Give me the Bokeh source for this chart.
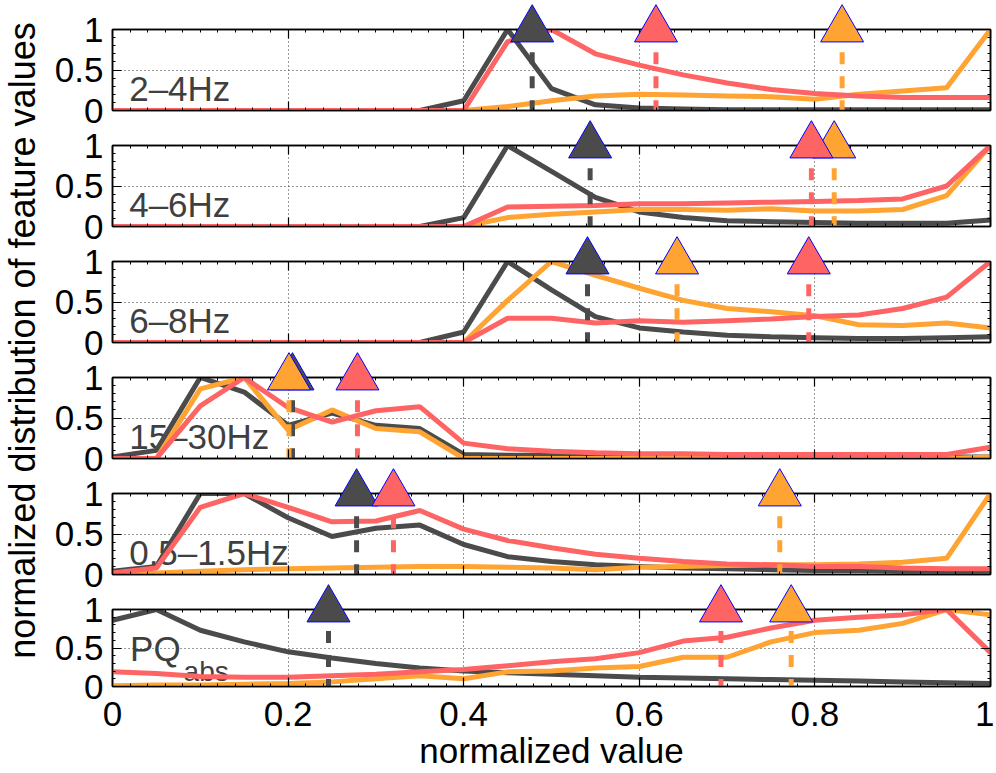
import math
from bokeh.plotting import figure
from bokeh.layouts import row, column
from bokeh.models import (FixedTicker, LinearAxis, Label, Range1d, Grid,
                          CustomJSTickFormatter)
from bokeh.embed import file_html
from bokeh.resources import INLINE
from bokeh.core.properties import value

# ---------------- data ----------------
x_bins = [0.0, 0.05, 0.1, 0.15, 0.2, 0.25, 0.3, 0.35, 0.4, 0.45, 0.5,
          0.55, 0.6, 0.65, 0.7, 0.75, 0.8, 0.85, 0.9, 0.95, 1.0]

band_labels = ["2\u20134Hz", "4\u20136Hz", "6\u20138Hz", "15\u201330Hz", "0.5\u20131.5Hz", "PQ"]
last_subscript = "abs"

dark_series = [
    [0, 0, 0, 0, 0, 0, 0, 0, 0.12, 1.0, 0.27, 0.07, 0.03, 0.02, 0.01, 0.01, 0.01, 0.01, 0.01, 0.01, 0.01],
    [0, 0, 0, 0, 0, 0, 0, 0, 0.11, 1.0, 0.68, 0.36, 0.18, 0.11, 0.07, 0.06, 0.05, 0.04, 0.04, 0.04, 0.08],
    [0, 0, 0, 0, 0, 0, 0, 0, 0.13, 1.0, 0.65, 0.32, 0.18, 0.13, 0.09, 0.07, 0.06, 0.05, 0.05, 0.06, 0.07],
    [0.02, 0.1, 1.0, 0.82, 0.41, 0.56, 0.41, 0.37, 0.05, 0.04, 0.04, 0.03, 0.03, 0.02, 0.02, 0.02, 0.02, 0.02, 0.02, 0.02, 0.02],
    [0.04, 0.1, 1.0, 1.0, 0.7, 0.47, 0.57, 0.61, 0.37, 0.22, 0.16, 0.12, 0.1, 0.08, 0.07, 0.06, 0.05, 0.05, 0.04, 0.04, 0.04],
    [0.86, 1.0, 0.73, 0.58, 0.45, 0.37, 0.3, 0.24, 0.2, 0.18, 0.16, 0.14, 0.12, 0.11, 0.1, 0.09, 0.08, 0.07, 0.06, 0.05, 0.04],
]
red_series = [
    [0, 0, 0, 0, 0, 0, 0, 0, 0, 0.85, 1.0, 0.7, 0.56, 0.44, 0.34, 0.26, 0.21, 0.18, 0.16, 0.16, 0.16],
    [0, 0, 0, 0, 0, 0, 0, 0, 0, 0.24, 0.25, 0.26, 0.28, 0.28, 0.29, 0.3, 0.31, 0.32, 0.34, 0.5, 1.0],
    [0, 0, 0, 0, 0, 0, 0, 0, 0, 0.3, 0.3, 0.24, 0.27, 0.25, 0.27, 0.29, 0.32, 0.34, 0.42, 0.56, 1.0],
    [0, 0, 0.65, 1.0, 0.63, 0.45, 0.59, 0.64, 0.19, 0.12, 0.09, 0.07, 0.06, 0.06, 0.05, 0.05, 0.05, 0.05, 0.05, 0.05, 0.14],
    [0.02, 0.08, 0.83, 1.0, 0.83, 0.65, 0.66, 0.79, 0.56, 0.42, 0.33, 0.25, 0.2, 0.16, 0.13, 0.12, 0.1, 0.1, 0.08, 0.07, 0.07],
    [0.19, 0.17, 0.13, 0.12, 0.12, 0.14, 0.16, 0.19, 0.22, 0.27, 0.32, 0.36, 0.44, 0.59, 0.64, 0.76, 0.86, 0.9, 0.93, 1.0, 0.44],
]
orange_series = [
    [0, 0, 0, 0, 0, 0, 0, 0, 0, 0.05, 0.12, 0.18, 0.2, 0.19, 0.18, 0.17, 0.14, 0.2, 0.24, 0.28, 1.0],
    [0, 0, 0, 0, 0, 0, 0, 0, 0, 0.11, 0.15, 0.18, 0.21, 0.21, 0.2, 0.22, 0.19, 0.19, 0.21, 0.38, 1.0],
    [0, 0, 0, 0, 0, 0, 0, 0, 0, 0.52, 1.0, 0.83, 0.67, 0.52, 0.42, 0.38, 0.33, 0.22, 0.21, 0.24, 0.18],
    [0, 0, 0.86, 1.0, 0.35, 0.6, 0.37, 0.33, 0, 0, 0, 0, 0, 0, 0, 0, 0, 0, 0, 0, 0.02],
    [0, 0.02, 0.04, 0.06, 0.07, 0.08, 0.09, 0.1, 0.1, 0.09, 0.08, 0.06, 0.09, 0.1, 0.11, 0.12, 0.12, 0.13, 0.15, 0.2, 1.0],
    [0.01, 0.02, 0.02, 0.03, 0.04, 0.06, 0.1, 0.14, 0.1, 0.19, 0.2, 0.24, 0.26, 0.38, 0.38, 0.58, 0.7, 0.73, 0.82, 1.0, 0.93],
]

dark_marker = [0.478, 0.544, 0.541, 0.205, 0.278, 0.246]
red_marker = [0.619, 0.796, 0.793, 0.279, 0.32, 0.693]
orange_marker = [0.831, 0.822, 0.643, 0.201, 0.76, 0.773]

x_ticks = [0, 0.2, 0.4, 0.6, 0.8, 1]
x_tick_labels = ["0", "0.2", "0.4", "0.6", "0.8", "1"]
y_ticks = [0, 0.5, 1]
y_tick_labels = ["0", "0.5", "1"]

x_label = "normalized value"
y_label = "normalized distribution of feature values"

# ---------------- style ----------------
DARK = "#4b4b4b"
RED = "#ff6464"
ORANGE = "#ffa333"
TEXT = "#3f3f3f"
FONT = "Liberation Sans"
DASH_TOP = 0.72
MARK_Y = 1.0

x_minor = [round(k * 0.02, 2) for k in range(51) if k % 10 != 0]
y_minor = [0.1, 0.2, 0.3, 0.4, 0.6, 0.7, 0.8, 0.9]

LABEL_W = 48
PANEL_W = 946
FRAME_H = 81
TOP_B = 29          # room for the triangles above each frame
BOT_B = 22          # room for the "0" tick label below each frame
LAST_BOT = 82
STEP = 116          # distance between panel tops
OVERLAP = TOP_B + FRAME_H + BOT_B - STEP
TOTAL_H = STEP * 5 + TOP_B + FRAME_H + LAST_BOT


def make_axis(ticks, minor, labels=None):
    ax = LinearAxis(ticker=FixedTicker(ticks=ticks, minor_ticks=minor))
    ax.major_tick_in = 9
    ax.major_tick_out = 0
    ax.minor_tick_in = 3
    ax.minor_tick_out = 0
    ax.axis_line_color = "black"
    ax.axis_line_width = 1.5
    ax.major_tick_line_color = "black"
    ax.major_tick_line_width = 1.2
    ax.minor_tick_line_color = "black"
    if labels is None:
        ax.formatter = CustomJSTickFormatter(code="return ''")
        ax.major_label_text_font_size = "1px"
        ax.major_label_standoff = 0
    else:
        ax.major_label_overrides = {t: s for t, s in zip(ticks, labels)}
        ax.major_label_text_font = FONT
        ax.major_label_text_font_size = "35px"
        ax.major_label_text_color = "black"
        ax.major_label_standoff = 9
    return ax


panels = []
for i in range(6):
    last = i == 5
    bot_b = LAST_BOT if last else BOT_B
    p = figure(width=PANEL_W, height=TOP_B + FRAME_H + bot_b,
               x_range=Range1d(0, 1), y_range=Range1d(0, 1),
               x_axis_type=None, y_axis_type=None,
               output_backend="svg", toolbar_location=None,
               min_border_left=112 - LABEL_W, min_border_right=4,
               min_border_top=TOP_B, min_border_bottom=bot_b)
    if i > 0:
        p.margin = (-OVERLAP, 0, 0, 0)
    p.outline_line_color = "black"
    p.outline_line_width = 1.5
    p.background_fill_color = "white"
    p.border_fill_color = None

    p.add_layout(Grid(dimension=0, ticker=FixedTicker(ticks=x_ticks),
                      grid_line_color="#333333", grid_line_dash="1 3",
                      grid_line_width=1))
    p.add_layout(Grid(dimension=1, ticker=FixedTicker(ticks=y_ticks),
                      grid_line_color="#333333", grid_line_dash="1 3",
                      grid_line_width=1))

    p.add_layout(make_axis(y_ticks, y_minor, y_tick_labels), "left")
    p.add_layout(make_axis(y_ticks, y_minor), "right")
    p.add_layout(make_axis(x_ticks, x_minor), "above")
    if last:
        bx = make_axis(x_ticks, x_minor, x_tick_labels)
        bx.major_label_standoff = 15
        bx.axis_label = x_label
        bx.axis_label_text_font = FONT
        bx.axis_label_text_font_size = "35px"
        bx.axis_label_text_font_style = "normal"
        bx.axis_label_text_color = "black"
        bx.axis_label_standoff = 2
        p.add_layout(bx, "below")
    else:
        p.add_layout(make_axis(x_ticks, x_minor), "below")

    # panel label (under the curves)
    if last:
        p.text(x=[0.02], y=[0.49], text=[band_labels[i]], text_font=value(FONT),
               text_font_size="35px", text_color=TEXT, text_baseline="middle")
        p.text(x=[0.081], y=[0.2], text=[last_subscript], text_font=value(FONT),
               text_font_size="28px", text_color=TEXT, text_baseline="middle")
    else:
        p.text(x=[0.019], y=[0.27], text=[band_labels[i]], text_font=value(FONT),
               text_font_size="35px", text_color=TEXT, text_baseline="middle")

    series = [(dark_series[i], DARK, dark_marker[i]),
              (orange_series[i], ORANGE, orange_marker[i]),
              (red_series[i], RED, red_marker[i])]
    for ys, col, mx in series:
        p.line(x_bins, ys, line_color=col, line_width=5)
    for ys, col, mx in series:
        p.segment(x0=[mx], y0=[DASH_TOP], x1=[mx], y1=[0], line_color=col,
                  line_width=5, line_dash="12 12")
    for ys, col, mx in series:
        p.scatter([mx], [MARK_Y], marker="triangle", size=43, fill_color=col,
                  line_color="#0000ff", line_width=1, level="overlay")
    panels.append(p)

# y-axis label figure
lf = figure(width=LABEL_W, height=TOTAL_H, x_range=Range1d(0, LABEL_W),
            y_range=Range1d(0, TOTAL_H), x_axis_type=None, y_axis_type=None,
            output_backend="svg", toolbar_location=None, min_border=0)
lf.outline_line_color = None
lf.add_layout(Label(x=22, y=TOTAL_H - 340, text=y_label, angle=math.pi / 2,
                    text_align="center", text_baseline="middle",
                    text_font=FONT, text_font_size="36px", text_color="black"))

layout = row(lf, column(*panels))
open("out.html", "w").write(file_html(layout, INLINE))
